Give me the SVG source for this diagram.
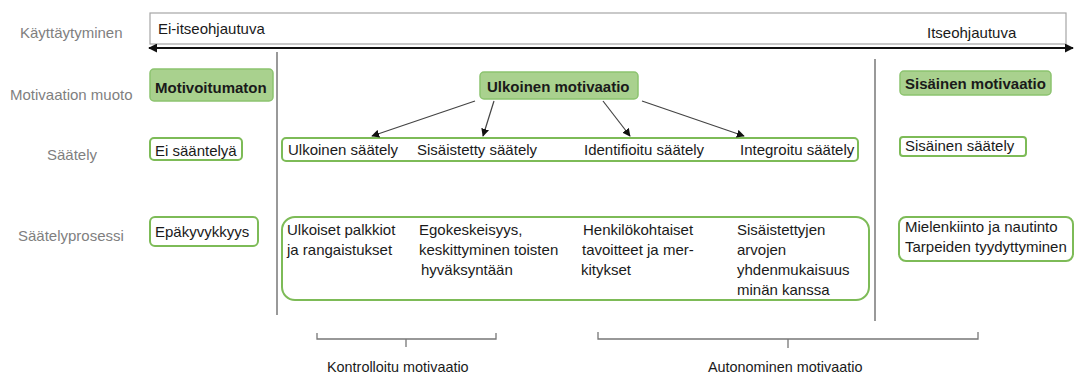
<svg xmlns="http://www.w3.org/2000/svg" width="1074" height="376" viewBox="0 0 1074 376">
<defs>
<style>
text{font-family:"Liberation Sans",Arial,sans-serif;font-size:15px;fill:#1a1a1a}
.lbl{fill:#7f7f7f}
.b{font-weight:bold}
.sm{font-size:14.4px}
.gn{fill:#a9d18e;stroke:#8cc36f;stroke-width:1.5}
.box{fill:#fff;stroke:#7dbb57;stroke-width:2}
.sep{stroke:#555;stroke-width:1.2;fill:none}
.conn{stroke:#444;stroke-width:1.2;fill:none;marker-end:url(#ah)}
.br{stroke:#777;stroke-width:1.3;fill:none}
</style>
<marker id="ah" viewBox="0 0 10 10" refX="9" refY="5" markerWidth="8" markerHeight="8" markerUnits="userSpaceOnUse" orient="auto"><path d="M0,0L10,5L0,10z" fill="#111"/></marker>
<marker id="ah2" viewBox="0 0 10 10" refX="9" refY="5" markerWidth="9" markerHeight="9" markerUnits="userSpaceOnUse" orient="auto-start-reverse"><path d="M0,0L10,5L0,10z" fill="#111"/></marker>
</defs>
<rect width="1074" height="376" fill="#fff"/>
<g id="labels">
<text class="lbl" x="20" y="38">Käyttäytyminen</text>
<text class="lbl" x="10" y="100">Motivaation muoto</text>
<text class="lbl" x="47" y="160">Säätely</text>
<text class="lbl" x="18" y="241">Säätelyprosessi</text>
</g>
<g id="scale">
<rect x="150" y="13" width="916" height="31" fill="#fff" stroke="#a6a6a6" stroke-width="1.2"/>
<text x="158" y="34">Ei-itseohjautuva</text>
<text x="927" y="38">Itseohjautuva</text>
<line x1="149" y1="48" x2="1073" y2="48" stroke="#111" stroke-width="2.2" marker-start="url(#ah2)" marker-end="url(#ah2)"/>
</g>
<g id="separators">
<line class="sep" x1="277" y1="52" x2="277" y2="315"/>
<line class="sep" x1="875" y1="59" x2="875" y2="321"/>
</g>
<g id="n-motivoitumaton"><rect class="gn" x="150" y="69" width="123" height="32" rx="4"/><text class="b" x="155" y="93">Motivoitumaton</text></g>
<g id="n-ulkoinen"><rect class="gn" x="480" y="72" width="158" height="27" rx="4"/><text class="b" x="487" y="92">Ulkoinen motivaatio</text></g>
<g id="n-sisainen"><rect class="gn" x="900" y="71" width="151" height="24" rx="4"/><text class="b" x="905" y="89">Sisäinen motivaatio</text></g>
<g id="n-ei-saantelya"><rect class="box" x="150" y="138" width="92" height="22" rx="4"/><text x="155" y="156">Ei sääntelyä</text></g>
<g id="n-saately"><rect class="box" x="282" y="138" width="576" height="23" rx="4"/>
<text x="288" y="155">Ulkoinen säätely</text>
<text x="417" y="155">Sisäistetty säätely</text>
<text x="584" y="155">Identifioitu säätely</text>
<text x="740" y="155">Integroitu säätely</text></g>
<g id="n-sisainen-saately"><rect class="box" x="900" y="137" width="126" height="19" rx="3"/><text x="905" y="151">Sisäinen säätely</text></g>
<g id="n-epakyvykkyys"><rect class="box" x="150" y="217" width="108" height="29" rx="5"/><text x="155" y="237">Epäkyvykkyys</text></g>
<g id="n-prosessi"><rect class="box" x="282" y="217" width="587" height="83" rx="13"/>
<text x="287" y="235">Ulkoiset palkkiot</text>
<text x="287" y="255">ja rangaistukset</text>
<text x="419" y="235">Egokeskeisyys,</text>
<text x="419" y="255">keskittyminen toisten</text>
<text x="421" y="275">hyväksyntään</text>
<text x="583" y="235">Henkilökohtaiset</text>
<text x="582" y="255">tavoitteet ja mer-</text>
<text x="581" y="275">kitykset</text>
<text x="737" y="235">Sisäistettyjen</text>
<text x="737" y="255">arvojen</text>
<text x="737" y="275">yhdenmukaisuus</text>
<text x="737" y="295">minän kanssa</text></g>
<g id="n-mielenkiinto"><rect class="box" x="899" y="217" width="174" height="44" rx="7"/>
<text x="905" y="232">Mielenkiinto ja nautinto</text>
<text x="905" y="252">Tarpeiden tyydyttyminen</text></g>
<g id="connectors">
<line class="conn" x1="475" y1="101" x2="372" y2="136"/>
<line class="conn" x1="494" y1="101" x2="483" y2="136"/>
<line class="conn" x1="603" y1="101" x2="630" y2="136"/>
<line class="conn" x1="642" y1="101" x2="744" y2="136"/>
</g>
<g id="brackets">
<path class="br" d="M317,333V339H496V333M406,339V347"/>
<text class="sm" x="327" y="372">Kontrolloitu motivaatio</text>
<path class="br" d="M598,332V339H978V332M788,339V348"/>
<text class="sm" x="708" y="372">Autonominen motivaatio</text>
</g>
</svg>
